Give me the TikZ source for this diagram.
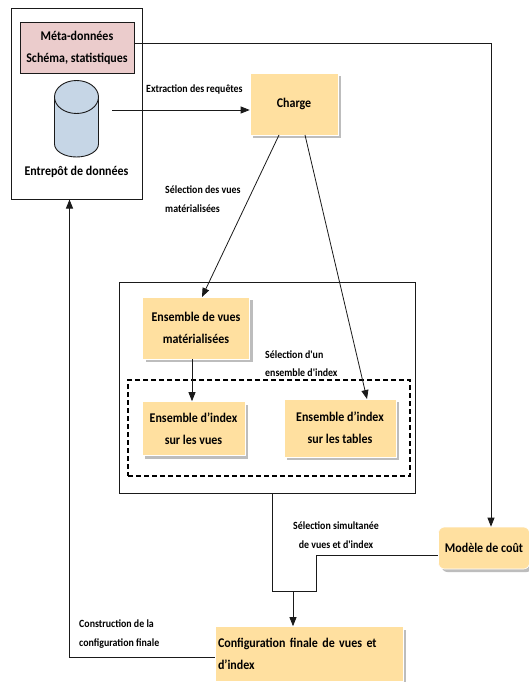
\documentclass[tikz,border=0pt]{standalone}
\usepackage{fontspec}
\setmainfont{Carlito}
\newfontfamily\narrowfont[FakeStretch=0.9]{Carlito}
\usetikzlibrary{arrows.meta,shadows,calc}
\definecolor{boxyellow}{HTML}{FFE0A0}
\definecolor{metapink}{HTML}{EBCCCC}
\definecolor{cylblue}{HTML}{C6D6E6}
\definecolor{shadowgray}{HTML}{BDBDBD}
\definecolor{linedark}{HTML}{1A1A1A}
\tikzset{
  x=1pt,y=-1pt,
  frame/.style={draw=linedark,line width=1pt,fill=white,inner sep=0pt},
  yellowbox/.style={fill=boxyellow,draw=white,line width=.6pt,inner sep=0pt,align=center,
    font=\narrowfont\bfseries\fontsize{13.3}{22}\selectfont,
    drop shadow={shadow xshift=3pt,shadow yshift=-3pt,fill=shadowgray,opacity=1}},
  metabox/.style={fill=metapink,draw=linedark,line width=.8pt,inner sep=0pt,align=center,
    font=\narrowfont\bfseries\fontsize{13.3}{22}\selectfont},
  lab/.style={inner sep=0pt,align=left,font=\narrowfont\bfseries\fontsize{11}{18.5}\selectfont},
  arr/.style={-{Triangle[length=9pt,width=7pt]},draw=linedark,line width=.8pt},
  ln/.style={draw=linedark,line width=.9pt},
  dashbox/.style={draw=black,line width=1.6pt,dash pattern=on 5pt off 3pt,inner sep=0pt},
}
\begin{document}
\begin{tikzpicture}
\useasboundingbox (0,0) rectangle (529,682);
\fill[white] (0,0) rectangle (529,682);
% outer frames
\node[frame,minimum width=130.5pt,minimum height=190pt] (wh) at (76.75,104) {};
\node[frame,minimum width=295.5pt,minimum height=211pt] (big) at (267.25,388) {};
\node[metabox,minimum width=114pt,minimum height=51pt] (meta) at (77,48) {Méta-données\\Schéma, statistiques};
% cylinder
\draw[draw=linedark,line width=.9pt,fill=cylblue] (54.5,97) -- (54.5,144) arc[start angle=180,end angle=360,x radius=22,y radius=-13] -- (98.5,97);
\draw[draw=linedark,line width=.9pt,fill=cylblue] (76.5,97) ellipse[x radius=22,y radius=16.5];
\node[inner sep=0pt,font=\narrowfont\bfseries\fontsize{13.3}{14}\selectfont] (wht) at (76.5,171.5) {Entrepôt de données};
% boxes
\node[yellowbox,minimum width=88pt,minimum height=62pt] (charge) at (294,104) {\raisebox{2pt}{Charge}};
\node[yellowbox,minimum width=107pt,minimum height=62pt] (vues) at (196,328) {Ensemble de vues\\matérialisées};
\node[dashbox,minimum width=282pt,minimum height=96pt] (dash) at (269,428) {};
\node[yellowbox,minimum width=103pt,minimum height=54pt] (iv) at (193.5,428.5) {Ensemble d’index\\sur les vues};
\node[yellowbox,minimum width=112pt,minimum height=58pt] (it) at (340,428) {Ensemble d’index\\sur les tables};
\node[yellowbox,minimum width=91pt,minimum height=42pt,rounded corners=6pt] (cout) at (484,548) {Modèle de coût};
\node[yellowbox,minimum width=188pt,minimum height=55pt,align=left,text width=182pt] (conf) at (309,654) {Configuration finale de vues et\\d’index};
% labels
\node[lab,anchor=west] (l1) at (146,89) {Extraction des requêtes};
\node[lab,anchor=north west] (l2) at (165,186) {Sélection des vues\\matérialisées};
\node[lab,anchor=north west] (l3) at (265,350.5) {Sélection d'un\\ensemble d'index};
\node[lab,anchor=north,align=center] (l4) at (336,522) {Sélection simultanée\\de vues et d'index};
\node[lab,anchor=north west] (l5) at (79,620) {Construction de la\\configuration finale};
% connectors
\coordinate (cylout) at (112,110);
\coordinate (costtop) at (491,527);
\coordinate (corner1) at (491,43);
\draw[arr] (cylout) -- (cylout -| charge.west);
\draw[arr] (meta.east |- corner1) -- (corner1) -- (cout.north -| corner1);
\coordinate (cs) at (279,135);
\coordinate (cs2) at (305,135);
\coordinate (vt) at (202,297);
\coordinate (tt) at (367,399);
\draw[arr] (cs) -- (vt);
\draw[arr] (cs2) -- (tt);
\coordinate (vb) at (192,359);
\draw[arr] (vb) -- (vb |- iv.north);
\coordinate (b1) at (272.5,591);
\coordinate (b2) at (316,591);
\coordinate (b3) at (316,555);
\draw[ln] (big.south -| b1) -- (b1) -- (b2) -- (b3) -- (b3 -| cout.west);
\coordinate (m) at (293,591);
\draw[arr] (m) -- (m |- conf.north);
\coordinate (r1) at (69.5,657);
\draw[arr] (conf.west |- r1) -- (r1) -- (r1 |- wh.south);
\end{tikzpicture}
\end{document}
